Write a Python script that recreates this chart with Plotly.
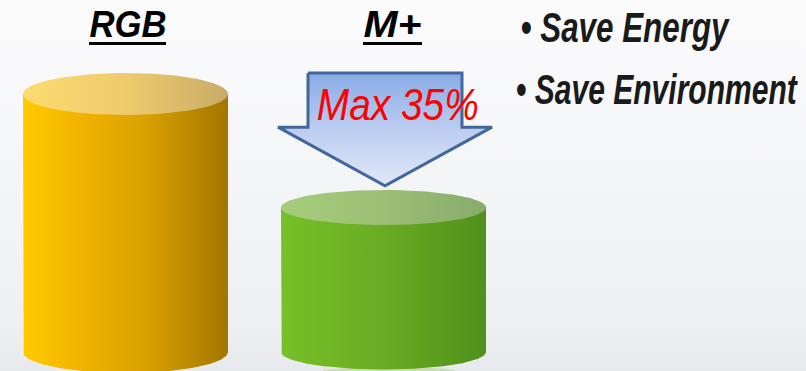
import numpy as np
import plotly.graph_objects as go

# ---- data ----
categories = ["RGB", "M+"]
values = [100, 56]            # relative power consumption (RGB = 100)
saving_label = "Max 35%"
bullets = ["Save Energy", "Save Environment"]

# ---- layout scale ----
W, H = 806, 371
PX_X = 258.0                  # pixels per category step
PX_Y = 2.58                   # pixels per value unit
x_lo = -125.5 / PX_X
y_lo = -19.0 / PX_Y
x_range = [x_lo, x_lo + W / PX_X]
y_range = [y_lo, y_lo + H / PX_Y]

half_w = 102.5 / PX_X
styles = [
    dict(ry=21 / PX_Y,
         body=[[0, "#ffca00"], [0.3, "#f0b200"], [0.6, "#d9a000"], [1, "#a27600"]],
         top=[[0, "#fcdb70"], [0.5, "#efcb6c"], [1, "#c8ab68"]]),
    dict(ry=17.5 / PX_Y,
         body=[[0, "#77c028"], [0.5, "#69ab22"], [1, "#51901b"]],
         top=[[0, "#a6cc7b"], [0.5, "#9bbf74"], [1, "#88ab6c"]]),
]


def arc(cx, cy, rx, ry, t0, t1, n=160):
    t = np.linspace(t0, t1, n)
    return cx + rx * np.cos(t), cy + ry * np.sin(t)


fig = go.Figure()

# background gradient
fig.add_trace(go.Scatter(
    x=[x_range[0], x_range[1], x_range[1], x_range[0], x_range[0]],
    y=[y_range[0], y_range[0], y_range[1], y_range[1], y_range[0]],
    mode="lines", line=dict(width=0), fill="toself",
    fillgradient=dict(type="vertical",
                      colorscale=[[0, "#e8e9ec"], [0.12, "#eeeff1"], [0.45, "#f3f4f6"], [1, "#fbfbfc"]]),
    hoverinfo="skip", showlegend=False))

for i, (cat, val) in enumerate(zip(categories, values)):
    st = styles[i]
    cx, ry = float(i), st["ry"]
    if i == 1:  # faint reflection under the second cylinder
        rx_, ry_ = arc(cx + 0.02, -ry - 0.6, half_w * 0.65, 1.6, 0, 2 * np.pi)
        fig.add_trace(go.Scatter(x=rx_, y=ry_, mode="lines", line=dict(width=0),
                                 fill="toself", fillcolor="rgba(140,200,90,0.35)",
                                 hoverinfo="skip", showlegend=False))
    bx, by = arc(cx, 0, half_w, ry, np.pi, 2 * np.pi)
    xs = np.concatenate([[cx - half_w, cx - half_w], bx, [cx + half_w, cx - half_w]])
    ys = np.concatenate([[val, 0], by, [val, val]])
    fig.add_trace(go.Scatter(
        x=xs, y=ys, mode="lines", line=dict(width=0), fill="toself",
        fillgradient=dict(type="horizontal", colorscale=st["body"]),
        hoverinfo="skip", showlegend=False))
    tx, ty = arc(cx, val, half_w, ry, 0, 2 * np.pi)
    fig.add_trace(go.Scatter(
        x=tx, y=ty, mode="lines", line=dict(width=0), fill="toself",
        fillgradient=dict(type="horizontal", colorscale=st["top"]),
        hoverinfo="skip", showlegend=False))

# reduction arrow: from top of first cylinder down to top of second
cx_a = 1.0 + 1.5 / PX_X
top_y = values[0] + styles[0]["ry"]
tip_y = values[1] + styles[1]["ry"] + 1.6
wing_y = tip_y + 0.52 * (top_y - tip_y)
sw, ww = 77 / PX_X, 107 / PX_X
ax = [cx_a - sw, cx_a + sw, cx_a + sw, cx_a + ww, cx_a, cx_a - ww, cx_a - sw, cx_a - sw]
ay = [top_y, top_y, wing_y, wing_y, tip_y, wing_y, wing_y, top_y]
fig.add_trace(go.Scatter(
    x=ax, y=ay, mode="lines", line=dict(width=3, color="#41679b"), fill="toself",
    fillgradient=dict(type="vertical", colorscale=[[0, "#e0e8f8"], [0.5, "#bccdf0"], [1, "#88abe6"]]),
    hoverinfo="skip", showlegend=False))

# category titles with thick underline
title_shift = [2, 9]
underline = [(-36.5, 40.5), (-20.5, 38.5)]
for i, cat in enumerate(categories):
    fig.add_annotation(x=i, xref="x", y=1 - 24.5 / H, yref="paper", yanchor="middle",
                       xanchor="center", xshift=title_shift[i], showarrow=False,
                       text=f"<b><i>{cat}</i></b>",
                       font=dict(family="Liberation Sans", size=36, color="#000000"))
    fig.add_shape(type="line", xref="x", yref="paper",
                  x0=i + underline[i][0] / PX_X, x1=i + underline[i][1] / PX_X,
                  y0=1 - 43.5 / H, y1=1 - 43.5 / H,
                  line=dict(color="#000000", width=3.2))

fig.add_annotation(x=1, xref="x", xshift=14, y=1 - 105 / H, yref="paper", yanchor="middle",
                   xanchor="center", showarrow=False,
                   text=f"<i>{saving_label}</i>",
                   font=dict(family="Liberation Sans", size=45, color="#ff0000"))

bullet_y = [27.5, 89.5]
bullet_right = [733, 801]
for k, b in enumerate(bullets):
    fig.add_annotation(x=bullet_right[k] / W, xref="paper", y=1 - bullet_y[k] / H, yref="paper",
                       xanchor="right", yanchor="middle", align="right", showarrow=False,
                       text=f"<b><i>• {b}</i></b>",
                       font=dict(family="Liberation Sans", size=42, color="#1a1a1a"))

fig.update_layout(
    width=W, height=H, margin=dict(l=0, r=0, t=0, b=0),
    paper_bgcolor="#f4f5f6", plot_bgcolor="#f4f5f6",
    xaxis=dict(range=x_range, visible=False, fixedrange=True),
    yaxis=dict(range=y_range, visible=False, fixedrange=True),
    showlegend=False,
)

# set text run lengths to match the original's face (condensed / wide)
squeeze_js = """
var gd = document.getElementById('{plot_id}');
function squeeze(){
  var specs = {'0': 77, '1': 58, '2': 162, '3': 208, '4': 281};
  gd.querySelectorAll('g.annotation').forEach(function(g){
    var k = g.getAttribute('data-index');
    if (specs[k] !== undefined) {
      var t = g.querySelector('text.annotation-text');
      if (t) {
        t.setAttribute('textLength', specs[k]);
        t.setAttribute('lengthAdjust', 'spacingAndGlyphs');
      }
    }
  });
}
squeeze();
if (gd.on) { gd.on('plotly_afterplot', squeeze); }
"""

fig.write_html("out.html", post_script=squeeze_js)
